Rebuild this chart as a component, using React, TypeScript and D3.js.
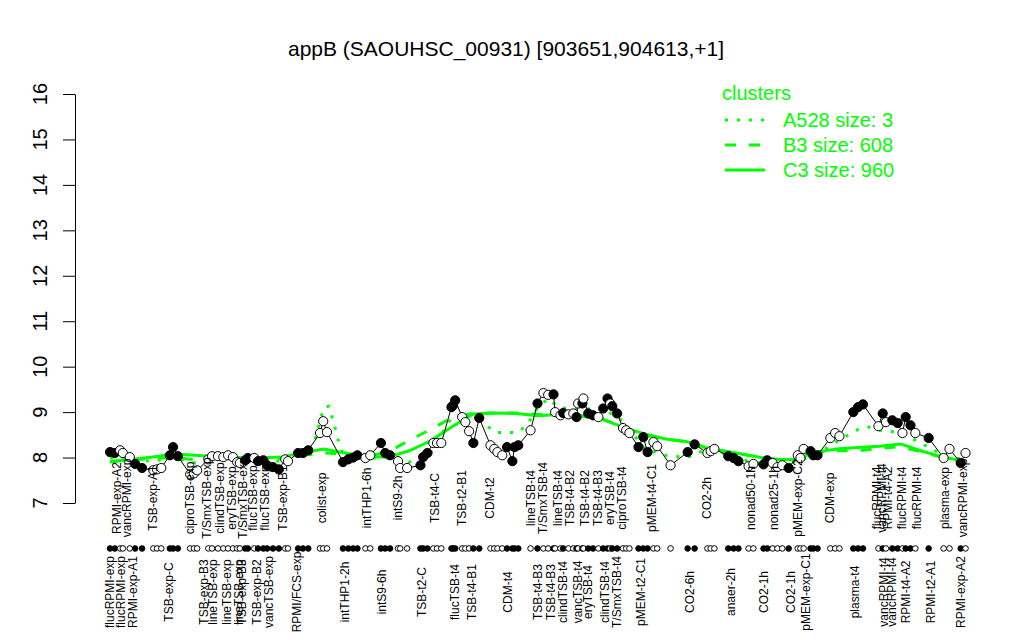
import { useEffect, useRef } from "react";
import * as d3 from "d3";

// sample order position, expression value, filled marker flag
const samplePos = [
  1.0, 1.9, 2.9, 3.4, 4.7, 5.7, 7.0, 9.1, 9.8, 10.6,
  12.2, 12.8, 13.7, 16.0, 16.7, 17.3, 19.4, 20.1, 21.2, 22.2,
  23.1, 24.0, 24.8, 25.3, 26.3, 26.8, 28.0, 28.7, 29.7, 30.4,
  31.5, 32.6, 33.8, 34.3, 36.2, 37.1, 38.1, 40.3, 40.9, 41.6,
  44.6, 45.6, 46.5, 47.3, 48.8, 49.7, 51.7, 52.5, 53.4, 54.9,
  55.3, 56.6, 59.1, 59.6, 60.4, 61.5, 62.2, 63.0, 64.9, 65.2,
  65.6, 66.9, 67.5, 68.2, 69.0, 70.1, 72.2, 72.9, 73.5, 74.4,
  75.3, 76.3, 76.7, 77.4, 79.7, 81.0, 82.1, 83.0, 84.0, 84.3,
  85.3, 85.8, 86.8, 87.7, 88.3, 88.6, 89.4, 89.6, 90.5, 91.4,
  92.4, 93.3, 94.1, 94.6, 95.0, 95.9, 97.0, 97.6, 98.2, 99.9,
  100.8, 101.6, 102.7, 103.4, 105.9, 109.1, 110.4, 112.8, 113.4, 114.1,
  116.7, 117.7, 118.6, 120.5, 121.4, 123.3, 124.0, 125.0, 125.9, 126.8,
  128.0, 129.7, 130.2, 130.8, 132.1, 132.6, 133.4, 135.8, 136.7, 137.5,
  140.1, 141.0, 141.9, 144.8, 145.6, 146.2, 147.4, 148.4, 149.3, 149.9,
  150.8, 151.7, 154.2, 157.0, 158.1, 160.2, 161.1,
];
const sampleValue = [
  8.12, 8.1, 8.16, 8.1, 8.01, 7.86, 7.77, 7.72, 7.74, 7.77,
  8.05, 8.23, 8.03, 7.63, 7.65, 7.72, 7.96, 8.03, 8.03, 8.01,
  8.05, 8.01, 7.9, 7.88, 7.94, 7.99, 7.99, 7.92, 7.94, 7.83,
  7.79, 7.74, 7.96, 7.92, 8.1, 8.1, 8.16, 8.54, 8.8, 8.56,
  7.9, 7.96, 8.0, 8.05, 7.99, 8.05, 8.32, 8.1, 8.05, 7.92,
  7.77, 7.77, 7.83, 8.01, 8.1, 8.32, 8.32, 8.32, 9.11, 9.15,
  9.26, 8.89, 8.78, 8.58, 8.32, 8.87, 8.27, 8.19, 8.12, 8.05,
  8.23, 7.92, 8.23, 8.27, 8.6, 9.19, 9.42, 9.38, 9.39, 9.0,
  8.93, 8.98, 8.95, 8.97, 8.89, 9.19, 9.19, 9.3, 8.97, 8.93,
  8.89, 9.08, 9.3, 9.19, 9.13, 8.97, 8.65, 8.6, 8.54, 8.23,
  8.45, 8.12, 8.34, 8.25, 7.83, 8.12, 8.29, 8.1, 8.14, 8.19,
  8.03, 7.99, 7.92, 7.81, 7.86, 7.85, 7.94, 7.88, 7.79, 7.83,
  7.77, 8.05, 7.99, 8.19, 8.14, 8.05, 8.05, 8.43, 8.54, 8.47,
  9.0, 9.11, 9.17, 8.69, 8.97, 8.78, 8.82, 8.76, 8.54, 8.89,
  8.71, 8.54, 8.43, 7.99, 8.19, 7.88, 8.1,
];
const sampleFilled = [
  1, 1, 0, 0, 0, 1, 1, 0, 0, 0,
  1, 1, 1, 0, 0, 0, 0, 0, 0, 0,
  0, 0, 0, 0, 1, 1, 0, 1, 1, 1,
  1, 1, 0, 0, 1, 1, 1, 0, 0, 0,
  1, 1, 1, 1, 0, 0, 1, 1, 1, 0,
  0, 0, 1, 1, 1, 0, 0, 0, 1, 1,
  1, 0, 0, 0, 1, 1, 0, 0, 0, 0,
  1, 1, 1, 1, 0, 1, 0, 0, 1, 0,
  0, 1, 0, 0, 1, 0, 1, 0, 1, 1,
  0, 1, 1, 0, 1, 1, 0, 0, 0, 1,
  1, 1, 0, 0, 0, 1, 1, 0, 0, 0,
  1, 1, 1, 0, 0, 1, 1, 0, 0, 0,
  1, 0, 0, 0, 1, 1, 1, 0, 0, 0,
  1, 1, 1, 0, 1, 0, 1, 1, 0, 1,
  1, 0, 1, 0, 0, 1, 0,
];

// cluster mean profiles
const clusterPos = [
  1, 5, 9, 13, 17, 21, 25, 29, 33, 37, 41, 45, 49, 53, 57, 61, 65, 69, 73, 77,
  81, 85, 89, 93, 97, 101, 105, 109, 113, 117, 121, 125, 129, 133, 137, 141,
  145, 149, 153, 157, 161,
];
const clusterC3 = [
  7.9, 7.96, 8.01, 8.08, 8.05, 8.02, 8.0, 7.99, 8.01, 8.1, 8.19, 8.1, 8.02,
  8.01, 8.15, 8.37, 8.68, 8.96, 8.98, 8.97, 8.92, 8.95, 8.92, 8.85, 8.67, 8.52,
  8.41, 8.35, 8.2, 8.12, 8.04, 7.96, 7.95, 8.12, 8.19, 8.22, 8.25, 8.3, 8.14,
  8.01, 7.92,
];
const clusterB3 = [
  7.92, 7.95, 7.98, 8.0, 7.95, 7.98, 7.98, 7.97, 7.98, 8.05, 8.1, 8.08, 8.02,
  8.12, 8.38, 8.62, 8.88, 8.97, 8.98, 8.98, 8.95, 8.95, 8.92, 8.85, 8.67, 8.5,
  8.4, 8.35, 8.2, 8.12, 8.04, 7.97, 7.95, 8.1, 8.15, 8.15, 8.2, 8.24, 8.12, 8.0,
  7.9,
];
const a528Pos = [
  1, 5, 9, 13, 17, 21, 25, 29, 33, 37, 39, 41, 42, 43, 44, 45, 49, 53, 57, 61,
  65, 69, 73, 77, 79, 81, 83, 85, 89, 93, 97, 101, 105, 109, 113, 117, 121, 125,
  129, 133, 137, 141, 143, 145, 149, 153, 157, 161,
];
const clusterA528 = [
  8.0, 7.95, 7.92, 8.0, 7.88, 7.98, 7.97, 7.95, 7.92, 8.05, 8.25, 9.1, 9.13,
  8.7, 8.25, 8.0, 7.98, 8.0, 7.9, 8.1, 8.9, 8.97, 8.55, 8.55, 8.7, 9.1, 9.3,
  9.1, 9.05, 9.1, 8.8, 8.2, 8.05, 8.0, 8.2, 8.05, 7.9, 7.85, 7.9, 8.05, 8.35,
  8.62, 8.67, 8.6, 8.55, 8.3, 8.05, 7.95,
];

const topLabels = [
  "RPMI-exp-A2", "vancRPMI-exp", "TSB-exp-A1", "ciproTSB-exp", "T/SmxTSB-exp",
  "clindTSB-exp", "eryTSB-exp", "T/SmxTSB-exp", "flucTSB-exp", "flucTSB-exp",
  "TSB-exp-B1", "colist-exp", "intTHP1-6h", "intS9-2h", "TSB-t4-C", "TSB-t2-B1",
  "CDM-t2", "lineTSB-t4", "T/SmxTSB-t4", "lineTSB-t4", "TSB-t4-B2", "TSB-t4-B2",
  "TSB-t4-B3", "eryTSB-t4", "ciproTSB-t4", "pMEM-t4-C1", "CO2-2h", "nonad50-1h",
  "nonad25-1h", "pMEM-exp-C2", "CDM-exp", "flucRPMI-t4", "vancRPMI-t4",
  "RPMI-t4-A2", "flucRPMI-t4", "flucRPMI-t4", "plasma-exp", "vancRPMI-exp",
];
const topLabelPos = [
  2.3, 4.2, 9.1, 16.0, 19.2, 21.6, 23.8, 25.9, 27.8, 30.0, 33.4, 40.7, 49.1,
  54.9, 61.9, 66.9, 72.2, 79.7, 82.1, 84.9, 87.1, 89.9, 92.4, 94.6, 96.9, 102.5,
  112.8, 120.9, 125.2, 129.7, 135.8, 144.6, 145.4, 146.5, 149.3, 152.1, 157.2,
  160.7,
];
const bottomLabels = [
  "flucRPMI-exp", "flucRPMI-exp", "RPMI-exp-A1", "TSB-exp-C", "TSB-exp-B3",
  "lineTSB-exp", "lineTSB-exp", "lineTSB-exp", "TSB-exp-B3", "TSB-exp-B2",
  "vancTSB-exp", "RPMI/FCS-exp", "intTHP1-2h", "intS9-6h", "TSB-t2-C",
  "flucTSB-t4", "TSB-t4-B1", "CDM-t4", "TSB-t4-B3", "TSB-t4-B3", "clindTSB-t4",
  "vancTSB-t4", "eryTSB-t4", "clindTSB-t4", "T/SmxTSB-t4", "pMEM-t2-C1",
  "CO2-6h", "anaer-2h", "CO2-1h", "CO2-1h", "pMEM-exp-C1", "plasma-t4",
  "vancRPMI-t4", "vancRPMI-t4", "RPMI-t4-A2", "RPMI-t2-A1", "RPMI-exp-A2",
];
const bottomLabelPos = [
  1.0, 3.1, 5.3, 12.0, 18.6, 20.3, 22.9, 25.2, 25.7, 28.5, 30.8, 36.0, 45.0,
  51.9, 59.4, 65.6, 68.8, 75.5, 81.1, 83.6, 85.8, 88.5, 90.5, 93.7, 95.9, 100.3,
  109.6, 117.3, 123.3, 128.5, 131.3, 140.5, 145.9, 147.4, 149.9, 154.6, 160.2,
];

const yTicks = [7, 8, 9, 10, 11, 12, 13, 14, 15, 16];
const legendNames = ["A528 size: 3", "B3 size: 608", "C3 size: 960"];

const GREEN = "#00ff00";
const FONT = "'Liberation Sans', Arial, Helvetica, sans-serif";

const GeneChart = () => {
  const svgRef = useRef(null);

  useEffect(() => {
    if (!svgRef.current) return;
    const svg = d3.select(svgRef.current);
    svg.selectAll("*").remove();

    const x = d3.scaleLinear().domain([1, 161]).range([110, 965]);
    const y = d3.scaleLinear().domain([7, 16]).range([503, 94]);

    // title
    svg
      .append("text")
      .attr("x", 506)
      .attr("y", 56)
      .attr("text-anchor", "middle")
      .attr("font-family", FONT)
      .attr("font-size", 21)
      .text("appB (SAOUHSC_00931) [903651,904613,+1]");

    // y axis
    const yAxis = d3
      .axisLeft(y)
      .tickValues(yTicks)
      .tickSize(12)
      .tickSizeOuter(0)
      .tickFormat(() => "");
    const gy = svg.append("g").attr("transform", "translate(75,0)").call(yAxis);
    gy.selectAll("path, line").attr("stroke", "#000").attr("stroke-width", 1);
    yTicks.forEach((t) => {
      svg
        .append("text")
        .attr("transform", `translate(47,${y(t)}) rotate(-90)`)
        .attr("text-anchor", "middle")
        .attr("font-family", FONT)
        .attr("font-size", 20)
        .text(t);
    });

    // cluster lines
    const clusterLine = (pos: number[], vals: number[]) =>
      d3
        .line<number>()
        .x((_, i) => x(pos[i]))
        .y((v) => y(v))(vals);

    svg
      .append("path")
      .attr("d", clusterLine(clusterPos, clusterC3))
      .attr("fill", "none")
      .attr("stroke", GREEN)
      .attr("stroke-width", 3);
    svg
      .append("path")
      .attr("d", clusterLine(clusterPos, clusterB3))
      .attr("fill", "none")
      .attr("stroke", GREEN)
      .attr("stroke-width", 3)
      .attr("stroke-dasharray", "11,13");
    svg
      .append("path")
      .attr("d", clusterLine(a528Pos, clusterA528))
      .attr("fill", "none")
      .attr("stroke", GREEN)
      .attr("stroke-width", 3)
      .attr("stroke-dasharray", "3,9");

    // sample profile
    svg
      .append("path")
      .attr("d", clusterLine(samplePos, sampleValue))
      .attr("fill", "none")
      .attr("stroke", "#000")
      .attr("stroke-width", 1);

    samplePos.forEach((p, i) => {
      svg
        .append("circle")
        .attr("cx", x(p))
        .attr("cy", y(sampleValue[i]))
        .attr("r", 4.6)
        .attr("fill", sampleFilled[i] ? "#000" : "#fff")
        .attr("stroke", "#000")
        .attr("stroke-width", 1);
      // marker strip below the axis
      svg
        .append("circle")
        .attr("cx", x(p))
        .attr("cy", y(6))
        .attr("r", 2.8)
        .attr("fill", sampleFilled[i] ? "#000" : "#fff")
        .attr("stroke", "#000")
        .attr("stroke-width", 1);
    });

    // sample labels
    topLabels.forEach((name, i) => {
      svg
        .append("text")
        .attr("transform", `translate(${x(topLabelPos[i]) + 4},498) rotate(-90)`)
        .attr("text-anchor", "middle")
        .attr("font-family", FONT)
        .attr("font-size", 12)
        .text(name);
    });
    bottomLabels.forEach((name, i) => {
      svg
        .append("text")
        .attr("transform", `translate(${x(bottomLabelPos[i]) + 4},592) rotate(-90)`)
        .attr("text-anchor", "middle")
        .attr("font-family", FONT)
        .attr("font-size", 12)
        .text(name);
    });

    // legend
    const legend = svg.append("g").attr("transform", "translate(720,0)");
    legend
      .append("text")
      .attr("x", 2)
      .attr("y", 100)
      .attr("fill", GREEN)
      .attr("font-family", FONT)
      .attr("font-size", 20)
      .text("clusters");
    const dashes = ["3,9", "11,13", ""];
    legendNames.forEach((name, i) => {
      const ly = 120 + i * 25;
      legend
        .append("line")
        .attr("x1", 5)
        .attr("x2", 45)
        .attr("y1", ly)
        .attr("y2", ly)
        .attr("stroke", GREEN)
        .attr("stroke-width", 3)
        .attr("stroke-dasharray", dashes[i] || null);
      legend
        .append("text")
        .attr("x", 63)
        .attr("y", ly + 7)
        .attr("fill", GREEN)
        .attr("font-family", FONT)
        .attr("font-size", 20)
        .text(name);
    });
  }, []);

  return (
    <svg
      ref={svgRef}
      width={1024}
      height={640}
      style={{ position: "absolute", left: 0, top: 0, background: "#fff" }}
    />
  );
};

export default function App() {
  return <GeneChart />;
}
